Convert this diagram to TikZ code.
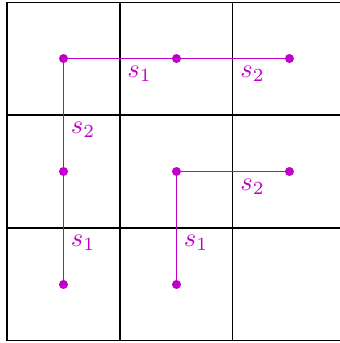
\documentclass[tikz,border=0pt]{standalone}
\usepackage{tikz}
\usetikzlibrary{positioning}
\definecolor{pathcol}{RGB}{190,0,200}

\begin{document}
\begin{tikzpicture}[x=1.5cm,y=1.5cm,
  dot/.style={circle,fill=pathcol,inner sep=0pt,minimum size=3.4pt},
  seg/.style={pathcol,thin},
  lbl/.style={text=pathcol,below right,inner sep=2.6pt}]
\useasboundingbox (-0.062,-0.018) rectangle (2.942,3.018);
\draw[black,thin,step=1.5cm] (0,0) grid (3,3);

\node[dot] (a) at (0.5,2.5) {};
\node[dot] (b) at (1.5,2.5) {};
\node[dot] (c) at (2.5,2.5) {};
\node[dot] (d) at (0.5,1.5) {};
\node[dot] (e) at (1.5,1.5) {};
\node[dot] (f) at (2.5,1.5) {};
\node[dot] (g) at (0.5,0.5) {};
\node[dot] (h) at (1.5,0.5) {};

\draw[seg] (a.center) -- node[lbl] (l1) {$s_1$} (b.center);
\draw[seg] (b.center) -- node[lbl] (l2) {$s_2$} (c.center);
\draw[seg] (a.center) -- node[lbl] (l3) {$s_2$} (d.center);
\draw[seg] (d.center) -- node[lbl] (l4) {$s_1$} (g.center);
\draw[seg] (e.center) -- node[lbl] (l5) {$s_2$} (f.center);
\draw[seg] (e.center) -- node[lbl] (l6) {$s_1$} (h.center);
\end{tikzpicture}
\end{document}
